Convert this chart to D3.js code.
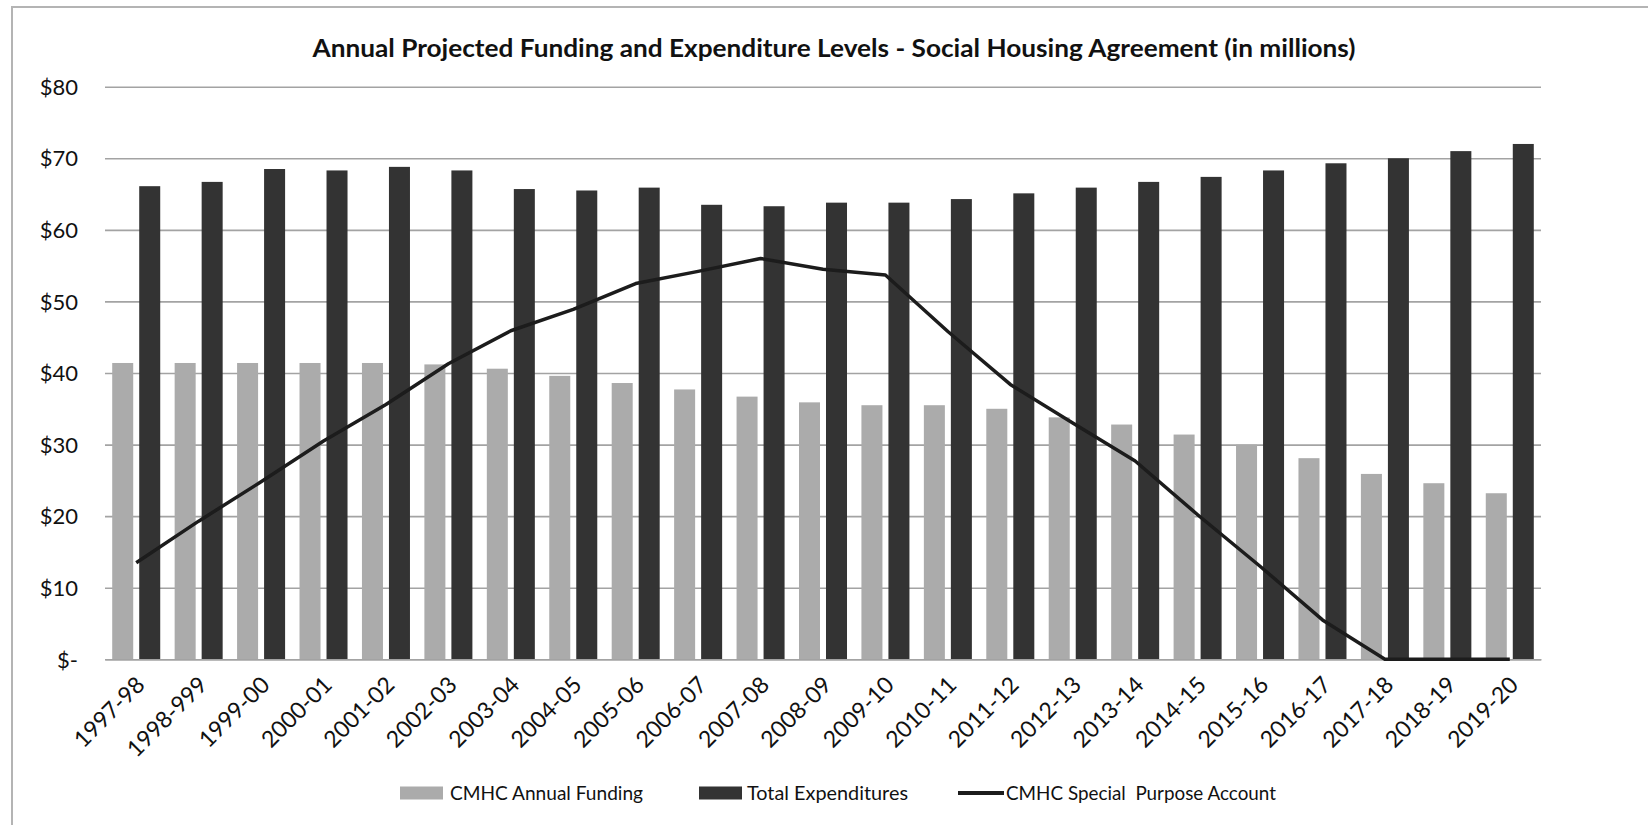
<!DOCTYPE html>
<html>
<head>
<meta charset="utf-8">
<script src="https://cdn.jsdelivr.net/npm/d3@7"></script>
<style>
  html, body { margin: 0; padding: 0; background: #fff; }
  svg { display: block; font-family: Lato, "Open Sans", sans-serif; }
</style>
</head>
<body>
<svg id="chart" width="1648" height="825"></svg>
<script>
// Fiscal years covered by the agreement
const categories = ["1997-98","1998-999","1999-00","2000-01","2001-02","2002-03","2003-04","2004-05",
  "2005-06","2006-07","2007-08","2008-09","2009-10","2010-11","2011-12","2012-13","2013-14",
  "2014-15","2015-16","2016-17","2017-18","2018-19","2019-20"];

// CMHC annual funding ($ millions)
const funding = [41.4,41.4,41.4,41.4,41.4,41.2,40.6,39.6,38.6,37.7,36.7,35.9,35.5,35.5,35.0,33.8,
  32.8,31.4,30.0,28.1,25.9,24.6,23.2];

// Total expenditures ($ millions)
const expenditures = [66.1,66.7,68.5,68.3,68.8,68.3,65.7,65.5,65.9,63.5,63.3,63.8,63.8,64.3,65.1,
  65.9,66.7,67.4,68.3,69.3,70.0,71.0,72.0];

// CMHC special purpose account balance ($ millions)
const specialAccount = [13.5,19.3,24.8,30.5,35.6,41.3,45.9,48.9,52.5,54.2,56.0,54.5,53.7,45.8,38.4,
  33.0,27.7,20.2,13.0,5.5,0,0,0];

const yTicks = [0,10,20,30,40,50,60,70,80];
const seriesNames = ["CMHC Annual Funding","Total Expenditures","CMHC Special  Purpose Account"];
const title = "Annual Projected Funding and Expenditure Levels - Social Housing Agreement (in millions)";

const FONT = 'Lato, "Open Sans", sans-serif';
const svg = d3.select("#chart");
const plot = { left: 105, right: 1541, top: 86.7, bottom: 659.3 };
const colors = { funding: "#ababab", expenditures: "#333333", line: "#1c1c1c", grid: "#a3a3a3" };

// Outer frame (top and left edges)
svg.append("path")
  .attr("d", `M12,825 L12,7 L1648,7`)
  .attr("fill", "none").attr("stroke", "#b4b4b4").attr("stroke-width", 2);

const x = d3.scaleBand().domain(categories).range([plot.left, plot.right]).padding(0);
const xSub = d3.scaleBand().domain(["funding","expenditures"])
  .range([0, x.bandwidth()]).paddingInner(0.222).paddingOuter(0.267);
const y = d3.scaleLinear().domain([0, 80]).range([plot.bottom, plot.top]);

// Horizontal gridlines + y labels
const yAxis = d3.axisLeft(y).tickValues(yTicks)
  .tickSize(-(plot.right - plot.left))
  .tickPadding(27)
  .tickFormat(d => d === 0 ? "$-" : "$" + d);
const gy = svg.append("g").attr("transform", `translate(${plot.left},0)`).call(yAxis)
  .attr("font-family", FONT);
gy.select(".domain").remove();
gy.selectAll(".tick line").attr("stroke", colors.grid).attr("stroke-width", 1.6);
gy.selectAll(".tick text").attr("fill", "#111").attr("font-size", 22).attr("dy", "0.35em");

// Bars
const groups = svg.append("g").selectAll("g").data(categories).join("g")
  .attr("transform", d => `translate(${x(d)},0)`);
groups.append("rect")
  .attr("x", xSub("funding")).attr("width", xSub.bandwidth())
  .attr("y", (d, i) => y(funding[i])).attr("height", (d, i) => y(0) - y(funding[i]))
  .attr("fill", colors.funding);
groups.append("rect")
  .attr("x", xSub("expenditures")).attr("width", xSub.bandwidth())
  .attr("y", (d, i) => y(expenditures[i])).attr("height", (d, i) => y(0) - y(expenditures[i]))
  .attr("fill", colors.expenditures);

// Category axis
const xAxis = d3.axisBottom(x).tickSize(0).tickPadding(0);
const gx = svg.append("g").attr("transform", `translate(0,${plot.bottom})`).call(xAxis)
  .attr("font-family", FONT);
gx.select(".domain").attr("stroke", colors.grid).attr("stroke-width", 1.6);
gx.selectAll(".tick text")
  .attr("fill", "#111").attr("font-size", 23)
  .attr("text-anchor", "end")
  .attr("dy", 0)
  .attr("transform", "translate(10,27) rotate(-45)");

// Special purpose account line
const line = d3.line()
  .x((d, i) => x(categories[i]) + x.bandwidth() / 2)
  .y(d => y(d));
svg.append("path").datum(specialAccount)
  .attr("d", line).attr("fill", "none")
  .attr("stroke", colors.line).attr("stroke-width", 3.5)
  .attr("stroke-linejoin", "round");

// Title
svg.append("text")
  .attr("x", 834).attr("y", 57).attr("text-anchor", "middle")
  .attr("font-size", 24).attr("font-weight", 700).attr("fill", "#111")
  .attr("textLength", 1043).attr("lengthAdjust", "spacingAndGlyphs")
  .text(title);

// Legend
const legendY = 793;
const legendItems = [
  { name: seriesNames[0], type: "rect", color: colors.funding, x0: 400, textX: 450, textW: 193 },
  { name: seriesNames[1], type: "rect", color: colors.expenditures, x0: 699, textX: 747, textW: 161 },
  { name: seriesNames[2], type: "line", color: colors.line, x0: 958, textX: 1006, textW: 270 }
];
const lg = svg.append("g");
legendItems.forEach(it => {
  if (it.type === "rect") {
    lg.append("rect").attr("x", it.x0).attr("y", legendY - 6.5).attr("width", 43).attr("height", 13)
      .attr("fill", it.color);
  } else {
    lg.append("line").attr("x1", it.x0).attr("x2", it.x0 + 46)
      .attr("y1", legendY).attr("y2", legendY)
      .attr("stroke", it.color).attr("stroke-width", 4);
  }
  lg.append("text").attr("x", it.textX).attr("y", legendY).attr("dy", "0.35em")
    .attr("font-size", 19).attr("fill", "#111")
    .style("white-space", "pre")
    .attr("textLength", it.textW).attr("lengthAdjust", "spacingAndGlyphs")
    .text(it.name);
});
</script>
</body>
</html>
